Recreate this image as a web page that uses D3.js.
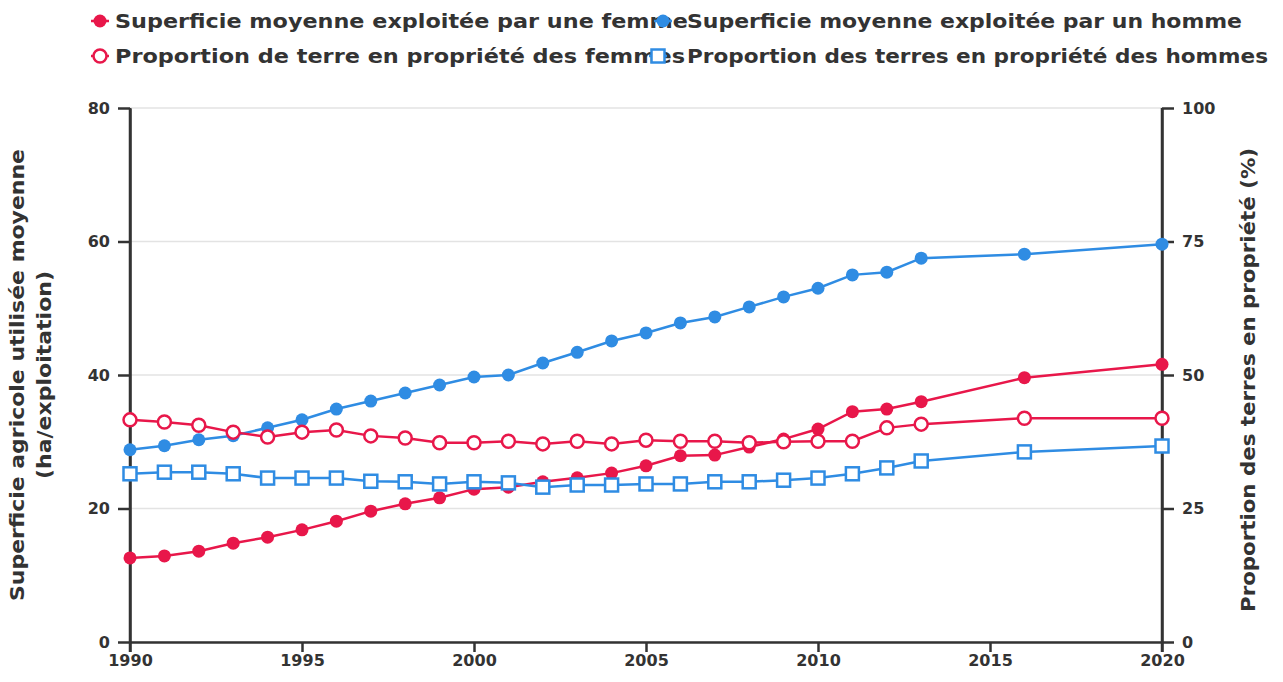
<!DOCTYPE html>
<html>
<head>
<meta charset="utf-8">
<script src="https://cdn.jsdelivr.net/npm/d3@7"></script>
<style>
  body { margin: 0; background: #fff; }
  text { font-family: "DejaVu Sans", sans-serif; font-weight: bold; fill: #333; }
</style>
</head>
<body>
<div id="chart"></div>
<script>
const widthValue = 1283;
const heightValue = 682;
const margin = {top: 108, right: 121, bottom: 40, left: 130};

// data
const years = [1990, 1991, 1992, 1993, 1994, 1995, 1996, 1997, 1998, 1999, 2000, 2001, 2002,
  2003, 2004, 2005, 2006, 2007, 2008, 2009, 2010, 2011, 2012, 2013, 2016, 2020];
const surfFemme = [12.6, 12.9, 13.6, 14.8, 15.7, 16.8, 18.1, 19.6, 20.7, 21.6, 22.9, 23.2, 24.0,
  24.6, 25.3, 26.4, 27.9, 28.0, 29.2, 30.4, 31.9, 34.5, 34.9, 36.0, 39.6, 41.6];
const surfHomme = [28.8, 29.4, 30.3, 30.9, 32.1, 33.3, 34.9, 36.1, 37.3, 38.5, 39.7, 40.0, 41.8,
  43.4, 45.1, 46.3, 47.8, 48.7, 50.2, 51.7, 53.0, 55.0, 55.4, 57.5, 58.1, 59.6];
const propFemmes = [41.6, 41.2, 40.6, 39.3, 38.4, 39.3, 39.7, 38.6, 38.2, 37.3, 37.3, 37.6, 37.1,
  37.6, 37.1, 37.8, 37.6, 37.6, 37.3, 37.5, 37.6, 37.6, 40.1, 40.8, 41.9, 41.9];
const propHommes = [31.5, 31.8, 31.8, 31.5, 30.7, 30.7, 30.7, 30.1, 30.0, 29.6, 30.0, 29.8, 29.0,
  29.4, 29.4, 29.6, 29.6, 30.0, 30.0, 30.3, 30.7, 31.5, 32.6, 33.9, 35.6, 36.7];
const leftTicks = [0, 20, 40, 60, 80];
const rightTicks = [0, 25, 50, 75, 100];
const xTicks = [1990, 1995, 2000, 2005, 2010, 2015, 2020];

const red = "#e8174a";
const blue = "#2f8ce3";

const series = [
  {name: "Superficie moyenne exploitée par une femme", values: surfFemme, axis: "left", color: red, marker: "dot"},
  {name: "Superficie moyenne exploitée par un homme", values: surfHomme, axis: "left", color: blue, marker: "dot"},
  {name: "Proportion de terre en propriété des femmes", values: propFemmes, axis: "right", color: red, marker: "ring"},
  {name: "Proportion des terres en propriété des hommes", values: propHommes, axis: "right", color: blue, marker: "square"}
];

const svg = d3.select("#chart")
  .append("svg")
  .attr("width", widthValue)
  .attr("height", heightValue);

const x = d3.scaleLinear()
  .domain([1990, 2020])
  .range([margin.left, widthValue - margin.right]);
const yL = d3.scaleLinear()
  .domain([0, 80])
  .range([heightValue - margin.bottom, margin.top]);
const yR = d3.scaleLinear()
  .domain([0, 100])
  .range([heightValue - margin.bottom, margin.top]);

// grid
svg.append("g")
  .selectAll("line")
  .data(leftTicks)
  .join("line")
  .attr("x1", margin.left).attr("x2", widthValue - margin.right)
  .attr("y1", d => yL(d)).attr("y2", d => yL(d))
  .attr("stroke", "#e3e3e3").attr("stroke-width", 1.5);

function styleAxis(g) {
  g.selectAll("path, line").attr("stroke", "#333").attr("stroke-width", 2.5);
  g.selectAll("text").attr("font-size", 16).attr("font-family", null).attr("fill", null);
}

svg.append("g")
  .attr("transform", `translate(0,${heightValue - margin.bottom})`)
  .call(d3.axisBottom(x).tickValues(xTicks).tickFormat(d3.format("d")).tickSize(10).tickSizeOuter(0).tickPadding(3))
  .call(styleAxis);

svg.append("g")
  .attr("transform", `translate(${margin.left},0)`)
  .call(d3.axisLeft(yL).tickValues(leftTicks).tickSize(12).tickSizeOuter(0).tickPadding(8))
  .call(styleAxis);

svg.append("g")
  .attr("transform", `translate(${widthValue - margin.right},0)`)
  .call(d3.axisRight(yR).tickValues(rightTicks).tickSize(12).tickSizeOuter(0).tickPadding(8))
  .call(styleAxis);

// spines reach down to the x tick marks
[margin.left, widthValue - margin.right].forEach(px => {
  svg.append("line")
    .attr("x1", px).attr("x2", px)
    .attr("y1", margin.top).attr("y2", heightValue - margin.bottom + 10)
    .attr("stroke", "#333").attr("stroke-width", 2.5);
});

// axis titles (stretched a bit like the original)
const midY = (margin.top + heightValue - margin.bottom) / 2;
svg.append("text")
  .attr("transform", `translate(24,${midY}) rotate(-90)`)
  .attr("text-anchor", "middle")
  .attr("font-size", 19)
  .attr("textLength", 452)
  .attr("lengthAdjust", "spacingAndGlyphs")
  .text("Superficie agricole utilisée moyenne");
svg.append("text")
  .attr("transform", `translate(51,${midY}) rotate(-90)`)
  .attr("text-anchor", "middle")
  .attr("font-size", 19)
  .attr("textLength", 208)
  .attr("lengthAdjust", "spacingAndGlyphs")
  .text("(ha/exploitation)");

svg.append("text")
  .attr("transform", `translate(1255,${(148 + 612) / 2}) rotate(-90)`)
  .attr("text-anchor", "middle")
  .attr("font-size", 19)
  .attr("textLength", 464)
  .attr("lengthAdjust", "spacingAndGlyphs")
  .text("Proportion des terres en propriété (%)");

function drawMarker(g, s, cx, cy) {
  if (s.marker === "dot") {
    g.append("circle").attr("cx", cx).attr("cy", cy).attr("r", 6.5).attr("fill", s.color);
  } else if (s.marker === "ring") {
    g.append("circle").attr("cx", cx).attr("cy", cy).attr("r", 6.5)
      .attr("fill", "#fff").attr("stroke", s.color).attr("stroke-width", 2.5);
  } else {
    g.append("rect").attr("x", cx - 6.5).attr("y", cy - 6.5).attr("width", 13).attr("height", 13)
      .attr("fill", "#fff").attr("stroke", s.color).attr("stroke-width", 2.5);
  }
}

// series
series.forEach(s => {
  const yS = s.axis === "left" ? yL : yR;
  const g = svg.append("g");
  g.append("path")
    .datum(s.values)
    .attr("fill", "none")
    .attr("stroke", s.color)
    .attr("stroke-width", 2.5)
    .attr("d", d3.line().x((d, i) => x(years[i])).y(d => yS(d)));
  s.values.forEach((v, i) => drawMarker(g, s, x(years[i]), yS(v)));
});

// legend: text first so the next marker sits over the overlap, as in the original
const legendPos = [[100, 21, 115, 573], [663, 21, 687, 555], [100, 56, 115, 570], [658, 56, 687, 581]];
series.forEach((s, i) => {
  const [mx, my, tx, tw] = legendPos[i];
  const g = svg.append("g");
  g.append("text")
    .attr("x", tx)
    .attr("y", my)
    .attr("dy", "0.35em")
    .attr("font-size", 19)
    .attr("textLength", tw)
    .attr("lengthAdjust", "spacingAndGlyphs")
    .text(s.name);
  g.append("line").attr("x1", mx - 9).attr("x2", mx + 9).attr("y1", my).attr("y2", my)
    .attr("stroke", s.color).attr("stroke-width", 2.5);
  drawMarker(g, s, mx, my);
});
</script>
</body>
</html>
